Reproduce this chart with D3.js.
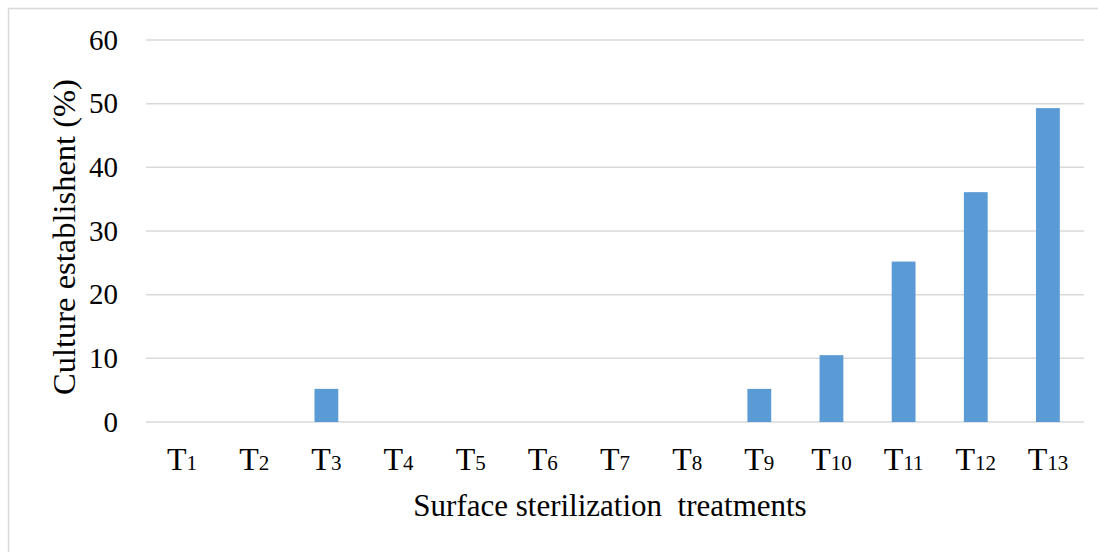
<!DOCTYPE html>
<html>
<head>
<meta charset="utf-8">
<script src="https://cdn.jsdelivr.net/npm/d3@7"></script>
<style>
  html, body { margin: 0; padding: 0; background: #fff; }
  svg { display: block; }
</style>
</head>
<body>
<svg id="chart" width="1098" height="552"></svg>
<script>
// Treatment codes (T + subscript number) and culture establishment (%)
const treatments = ["1", "2", "3", "4", "5", "6", "7", "8", "9", "10", "11", "12", "13"];
const establishment = [0, 0, 5.2, 0, 0, 0, 0, 0, 5.2, 10.5, 25.2, 36.1, 49.3];
const yTicks = [0, 10, 20, 30, 40, 50, 60];

const FONT = "'Liberation Serif', 'Times New Roman', Times, serif";
const svg = d3.select("#chart").attr("font-family", FONT);
const W = 1098, H = 552;
const plot = { left: 146, right: 1084, top: 40, bottom: 422 };

// Outer frame (extends past the right and bottom edges)
svg.append("rect")
  .attr("x", 8.5).attr("y", 8.5)
  .attr("width", W + 10).attr("height", H + 10)
  .attr("fill", "none").attr("stroke", "#d9d9d9").attr("stroke-width", 1.5);

const x = d3.scaleBand()
  .domain(treatments)
  .range([plot.left, plot.right])
  .paddingInner(0.67)
  .paddingOuter(0.335);

const y = d3.scaleLinear().domain([0, 60]).range([plot.bottom, plot.top]);

// Horizontal gridlines
svg.append("g")
  .selectAll("line")
  .data(yTicks)
  .join("line")
  .attr("x1", plot.left).attr("x2", plot.right)
  .attr("y1", d => y(d)).attr("y2", d => y(d))
  .attr("stroke", "#d9d9d9").attr("stroke-width", 1.5);

// Y axis labels
const yAxis = d3.axisLeft(y).tickValues(yTicks).tickSize(0).tickPadding(0);
const gy = svg.append("g").attr("transform", `translate(118,0)`).call(yAxis);
gy.attr("font-family", FONT).attr("font-size", 29);
gy.select(".domain").remove();
gy.selectAll("text").attr("fill", "#000");

// Bars
svg.append("g")
  .selectAll("rect")
  .data(treatments.map((t, i) => ({ t, v: establishment[i] })))
  .join("rect")
  .attr("x", d => x(d.t))
  .attr("width", x.bandwidth())
  .attr("y", d => y(d.v))
  .attr("height", d => y(0) - y(d.v))
  .attr("fill", "#5b9bd5");

// X axis labels: T with subscript number
const xl = svg.append("g")
  .selectAll("text")
  .data(treatments)
  .join("text")
  .attr("x", d => x(d) + x.bandwidth() / 2)
  .attr("y", 470)
  .attr("text-anchor", "middle")
  .attr("fill", "#000");
xl.append("tspan").attr("font-size", 32).text("T");
xl.append("tspan").attr("font-size", 21).text(d => d);

// Axis titles
svg.append("text")
  .attr("x", 610).attr("y", 516)
  .attr("text-anchor", "middle")
  .attr("font-size", 31)
  .attr("fill", "#000")
  .attr("xml:space", "preserve")
  .style("white-space", "pre")
  .text("Surface sterilization  treatments");

svg.append("text")
  .attr("transform", "translate(75,237) rotate(-90)")
  .attr("text-anchor", "middle")
  .attr("font-size", 32.5)
  .attr("fill", "#000")
  .text("Culture establishent (%)");
</script>
</body>
</html>
